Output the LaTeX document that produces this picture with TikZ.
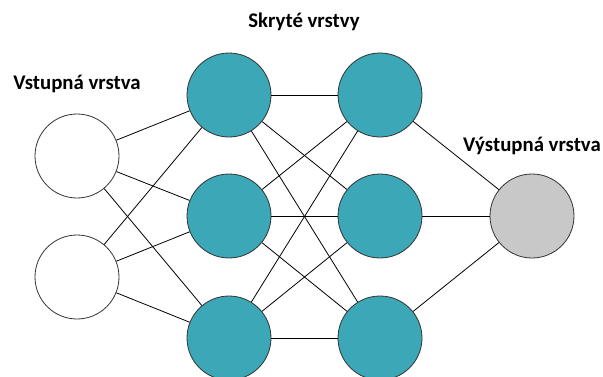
\documentclass[tikz,border=0pt]{standalone}
\usepackage{fontspec}
\setmainfont{Carlito}

\definecolor{hiddenfill}{HTML}{3BA7B7}
\definecolor{outfill}{HTML}{C8C8C8}

\begin{document}
\begin{tikzpicture}[x=1pt,y=-1pt]
      \tikzstyle{neuron}=[circle, draw=black!80, line width=0.8pt, minimum size=84pt, inner sep=0pt]
      \tikzstyle{label}=[font=\fontsize{20.8}{24}\selectfont\bfseries, inner sep=0pt]
      \useasboundingbox (0,0) rectangle (603,376);
      \clip (0,0) rectangle (603,376);
      \node [neuron, fill=white] (in1) at (77,156) {};
      \node [neuron, fill=white] (in2) at (77,277) {};
      \node [neuron, fill=hiddenfill] (ha1) at (229,95) {};
      \node [neuron, fill=hiddenfill] (ha2) at (229,216) {};
      \node [neuron, fill=hiddenfill] (ha3) at (229,338) {};
      \node [neuron, fill=hiddenfill] (hb1) at (380,95) {};
      \node [neuron, fill=hiddenfill] (hb2) at (380,216) {};
      \node [neuron, fill=hiddenfill] (hb3) at (380,338) {};
      \node [neuron, fill=outfill] (out) at (532,216) {};
      \node [label] (lin) at (77,84) {Vstupná vrstva};
      \node [label] (lhid) at (304,22) {Skryté vrstvy};
      \node [label] (lout) at (532,146) {Výstupná vrstva};
      \foreach \i in {1,2}
        \foreach \j in {1,2,3}
          \draw [black, line width=0.8pt] (in\i) -- (ha\j);
      \foreach \i in {1,2,3}
        \foreach \j in {1,2,3}
          \draw [black, line width=0.8pt] (ha\i) -- (hb\j);
      \foreach \i in {1,2,3}
        \draw [black, line width=0.8pt] (hb\i) -- (out);
\end{tikzpicture}
\end{document}
